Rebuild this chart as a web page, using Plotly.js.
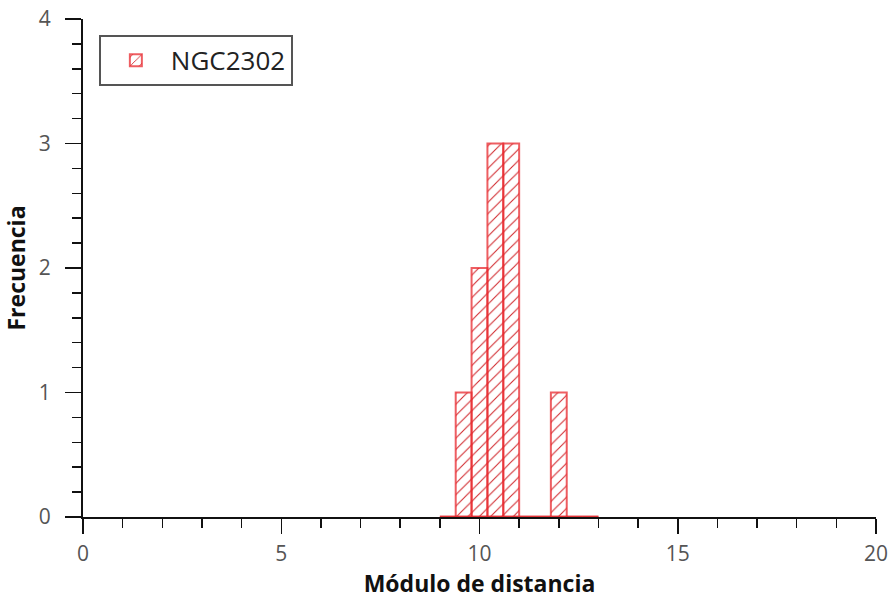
<!DOCTYPE html>
<html>
<head>
<meta charset="utf-8">
<script src="https://cdn.plot.ly/plotly-3.0.1.min.js"></script>
<style>html,body{margin:0;padding:0;background:#fff}#chart{width:892px;height:600px}</style>
</head>
<body>
<div id="chart"></div>
<script>
// Histogram data (bins of width 0.4 from 9 to 13)
const binStart = 9.0;
const binWidth = 0.4;
const counts = [0, 1, 2, 3, 3, 0, 0, 1, 0, 0];
const seriesName = "NGC2302";
const xTitle = "Módulo de distancia";
const yTitle = "Frecuencia";

const centers = counts.map((_, i) => binStart + binWidth * (i + 0.5));
const binEnd = binStart + binWidth * counts.length;

const red = "rgba(232,40,45,0.75)";

const traces = [
  {
    type: "scatter",
    mode: "lines",
    x: [binStart, binEnd],
    y: [0, 0],
    line: {color: "rgba(225,40,45,0.8)", width: 3},
    showlegend: false,
    hoverinfo: "skip"
  },
  {
    type: "bar",
    name: seriesName,
    x: centers,
    y: counts,
    width: binWidth,
    marker: {
      color: "rgba(255,255,255,0)",
      line: {color: red, width: 2},
      pattern: {shape: "/", fgcolor: "rgba(205,20,25,0.9)", bgcolor: "rgba(255,255,255,0)", size: 8, solidity: 0.14}
    }
  }
];

const fam = "Open Sans, DejaVu Sans, sans-serif";
const tickFont = {family: fam, size: 21, color: "#555"};
const titleFont = {family: fam, size: 23, color: "#111", weight: "bold"};

const layout = {
  width: 892,
  height: 600,
  margin: {l: 83, r: 16, t: 19, b: 83},
  paper_bgcolor: "#fff",
  plot_bgcolor: "#fff",
  showlegend: true,
  bargap: 0,
  xaxis: {
    range: [0, 20],
    dtick: 5,
    tick0: 0,
    showgrid: false,
    zeroline: false,
    showline: true,
    linecolor: "#111",
    linewidth: 2,
    ticks: "outside",
    ticklen: 15,
    tickwidth: 1.5,
    tickcolor: "#111",
    ticklabelstandoff: 2,
    minor: {dtick: 1, ticks: "outside", ticklen: 9, tickwidth: 1.5, tickcolor: "#111", showgrid: false},
    tickfont: tickFont,
    title: {text: xTitle, font: titleFont, standoff: 8},
    fixedrange: true
  },
  yaxis: {
    range: [0, 4],
    dtick: 1,
    tick0: 0,
    showgrid: false,
    zeroline: false,
    showline: true,
    linecolor: "#111",
    linewidth: 2,
    ticks: "outside",
    ticklen: 16,
    tickwidth: 1.5,
    tickcolor: "#111",
    ticklabelstandoff: 10,
    minor: {dtick: 0.2, ticks: "outside", ticklen: 9, tickwidth: 1.5, tickcolor: "#111", showgrid: false},
    tickfont: tickFont,
    title: {text: yTitle, font: titleFont, standoff: 8},
    fixedrange: true
  },
  legend: {
    x: 0.02,
    y: 0.968,
    xanchor: "left",
    yanchor: "top",
    bgcolor: "#fff",
    bordercolor: "#555",
    borderwidth: 2,
    font: {family: fam, size: 26, color: "#222"},
    itemwidth: 60
  }
};

Plotly.newPlot("chart", traces, layout, {displayModeBar: false, staticPlot: true});
</script>
</body>
</html>
